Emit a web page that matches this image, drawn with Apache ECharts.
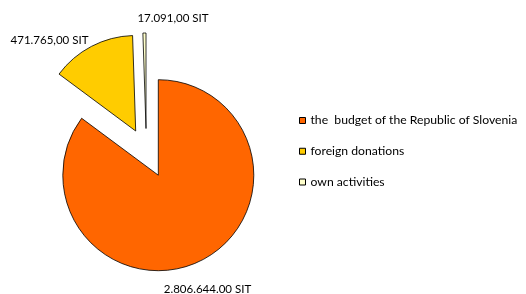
<!DOCTYPE html>
<html>
<head>
<meta charset="utf-8">
<script src="https://cdn.jsdelivr.net/npm/echarts@6/dist/echarts.min.js"></script>
<style>
html,body{margin:0;padding:0;background:#fff;}
#chart{width:526px;height:294px;}
</style>
</head>
<body>
<div id="chart"></div>
<script>
const categories = ['the  budget of the Republic of Slovenia', 'foreign donations', 'own activities'];
const values = [2806644, 471765, 17091];
const valueLabels = ['2.806.644.00 SIT', '471.765,00 SIT', '17.091,00 SIT'];
const colors = ['#FF6600', '#FFCC00', '#FFFFCC'];

// layout (exploded slice centres and label anchors)
const centers = [[158.3, 175.2], [135.7, 131], [146, 128.5]];
const labelPos = [[207.5, 289], [49.5, 40], [173, 18]];
const FONT = 'Lato, "Open Sans", sans-serif';

const chart = echarts.init(document.getElementById('chart'), null, {renderer: 'canvas'});

const series = categories.map(function (cat, s) {
  return {
    type: 'pie',
    center: centers[s],
    radius: 95.5,
    startAngle: 90,
    clockwise: true,
    avoidLabelOverlap: false,
    silent: true,
    animation: false,
    emphasis: {disabled: true, scale: false},
    labelLine: {show: false},
    data: values.map(function (v, i) {
      if (i === s) {
        return {
          name: cat,
          value: v,
          itemStyle: {color: colors[i], borderColor: '#000', borderWidth: 0.8},
          label: {
            show: true,
            formatter: valueLabels[i],
            color: '#000',
            fontFamily: FONT,
            fontSize: 11.5
          }
        };
      }
      return {
        name: '_hidden_' + s + '_' + i,
        value: v,
        itemStyle: {color: 'rgba(0,0,0,0)', borderWidth: 0},
        label: {show: false}
      };
    }),
    labelLayout: function () {
      return {x: labelPos[s][0], y: labelPos[s][1], align: 'center', verticalAlign: 'middle'};
    }
  };
});

chart.setOption({
  animation: false,
  backgroundColor: '#fff',
  legend: {
    data: categories,
    orient: 'vertical',
    left: 299,
    top: 113.5,
    padding: 0,
    icon: 'rect',
    itemWidth: 6,
    itemHeight: 6,
    itemGap: 16.75,
    selectedMode: false,
    itemStyle: {borderColor: '#000', borderWidth: 1},
    textStyle: {fontFamily: FONT, fontSize: 12.2, color: '#000', lineHeight: 14}
  },
  series: series
});
</script>
</body>
</html>
